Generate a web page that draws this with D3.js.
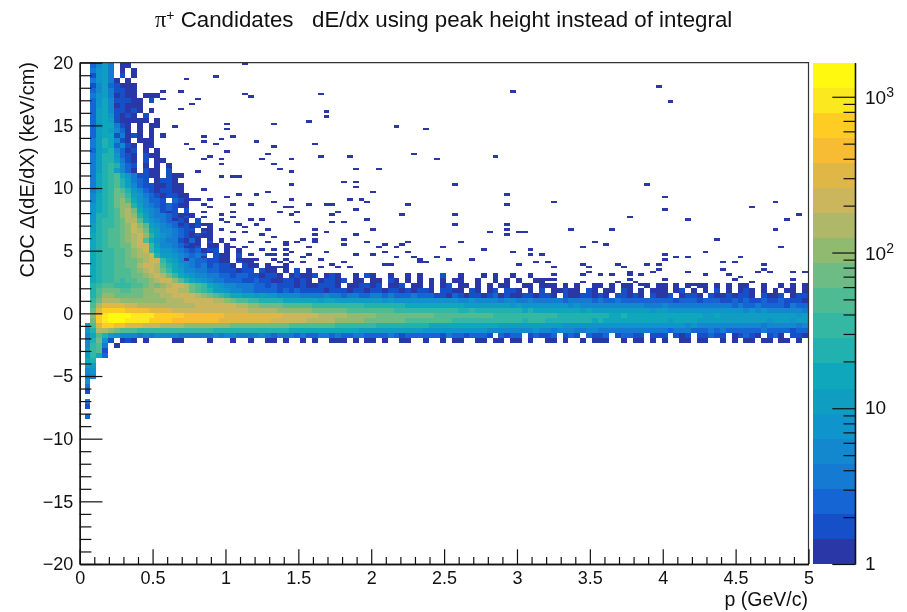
<!DOCTYPE html>
<html><head><meta charset="utf-8">
<style>html,body{margin:0;padding:0;background:#fff}svg{display:block;filter:blur(0.45px)}text{font-family:"Liberation Sans",Arial,sans-serif;fill:#111}</style>
<script src="https://cdn.jsdelivr.net/npm/d3@7"></script></head><body>
<svg id="c" width="907" height="612"></svg>
<script>
// ---- data ----
const titleText = "Candidates   dE/dx using peak height instead of integral";
const xLabel = "p (GeV/c)";
const yLabel = "CDC \u0394(dE/dX) (keV/cm)";
const xMajor = [0,0.5,1,1.5,2,2.5,3,3.5,4,4.5,5];
const yMajor = [-20,-15,-10,-5,0,5,10,15,20];
const zMajor = [1,10,100,1000];
const zMax = 1655;
const binP = 0.04, rowY = 0.4, fineY = 0.2;
const palette = ["#2a37a6","#1550c8","#1665d4","#157ad2","#1488ce","#0f94cb","#0f9ec2","#0fa7bb","#21b1af","#35b8a3","#4fbb93","#6dbb85","#8fba70","#aeb868","#cbb55d","#dfb747","#f7bc33","#ffcc24","#fbe81e","#fff80f"];
// one string per 0.4-high row from y=20 downward; one char per 0.04 GeV/c column;
// char = colour level of that bin ("." empty, 0-9 then a-j)
const denseRows = [
"..246 3.00","..356 3.0.0","..156 3.1.0","..356 30.0","..146 21000","..246 31100","..356 30100 .000","..257 41110 0.1","..257 40100 0",
"..267 41101 0.0","..267 51010 .1","..267 61000 00.0","..257 7310. 0.00","..267 6420. 0.0","..267 71301 0.0.0","..368 7410. 000","..368 72410 .00",
"..267 8420 1.0.0","..368 8521 0.100","..368 8631 0.1.0 0","..368 9842 1.0.0 .0","..368 9642 0.1 00.1","..378 9a753 1100.1 00","..378 9a863 21.011 0",
"..378 9a864 21100 100","..368 9ba85 4210 110 0","..478 9bb96 5321 0110 0","..478 9bca7 5422 1.2 10","..578 9bcc8 6432 121 0 0","..578 9acdb 7543 1 2 1 . 1",
"..588 9acdc 8643 321 0 1 0","..589 9abdd a7543 22 1 0 . 1","..689 9abce ca654 3211 0 1 . 0","..689 aabce db764 4 3 2 1 1 . 1 0","..789 aabcd ec865 4 3 2 1 0 1 0 0",
"..789 aabcd ea754 33102 0.1.0","..789 aabbd ee964 43210 1.00. 0","..789 9aabc de975 54321 2011. 0.0","..789 9aabc dde86 65432 32.10 0.1","..789 9aabb cdee9 76443 22110 0.10 0",
"..789 9aabb deeda 87543 23121 10.10 0.0.. 0",
"..789 9aaab cdedb 97644 33221 11011 .100. 0.1.0",
"..789 9aaab bcded b9765 44332 21221 10110 .0100 1.010 ..0.1 0..0. .0.0. ..1.. 0...0 .0..0 ..0..",
"..789 9a9aa bbcde eca87 65433 22211 21100 11010 .0110 1.00. 00.10 .0.0. 0.0.0 0..0. .0.0. 0..00",
"..89a a999a abcbc deedb a9765 44333 22121 11010 01110 .0011 01.00 1.00. 0.01. 00.0. 0.00. .00.0 00.0. 0..00 .0.00 ..0.0 0.0.0 .00.0 .0.00 ..0.. 0.0.0",
"..8ab bbaab bccdd eeddb a9866 54433 22221 21211 11011 10110 11011 01011 0.110 0.10. 01.11 0.0.1 .0010 0.10. 00.10 .0.00 0.01. 0.0.1 .0.01 0.0.0 .00.0",
"..8ac cbbbb bcccd deeee dcba9 87766 56554 44433 33433 23322 33232 22322 21102 10110 12010 01101 10.10 01101 0.110 10.10 01.01 10.10 01011 0.100 1.011",
"..9bd ddccc ccccc dddee eeedd cbaa9 98888 77777 76776 66666 66565 55555 55555 44544 44344 33433 33323 33323 22322 22222 22122 21222 11212 11211 21110",
"..adf fffee ddddd ddddd eeeee eeddc cbbbb aaaaa 99999 99998 88888 87777 77777 76666 66665 65555 55554 54444 44444 44333 43333 33333 33232 23222 21322",
"..bfh hhhgg ggfff feeee eeeee eeeed ddddc ccccc bbbbb baaaa aaaa9 99999 99999 88988 88888 87877 77777 76766 66666 66656 65555 55555 55554 54544 44443",
"..chi jjjji iiihh hhhgg ggggg fffff fffff eeeee edddd dcccc cbbbb bbbbb baaaa aaaaa a9999 99999 99888 88888 87787 77777 77777 77667 66666 66666 66656",
"..bhi jjjii iihhh hgggg ggggf fffff fffee eeeed ddddc ccccb bbbbb baaaa aaaa9 99999 99999 98999 88888 88878 77777 77777 76777 76666 66666 66656 66566",
".6afh hggff feeed dddcc ccccc cbbbb bbbbb baaaa aaaa9 99999 98888 88888 77777 77777 77666 66666 66655 55555 55555 55555 55554 54444 44444 44344 44434",
".58dd cbaaa 99999 99999 99988 88888 88888 87777 77777 77766 66666 66665 55555 55555 44444 44454 43444 33443 33333 33333 32333 22232 32222 22322 22122",
".47a8 65444 34344 44333 33343 44333 34323 33232 23323 22332 22232 12222 22132 21222 1.212 2.121 12.12 1.211 2.122 11.11 1.101 .1121 1.012 10.12 0.110",
".48b5 1.010 .0... .00.. ..0.. .0..0 ..00. 0..0. 0..00 0.0.0 0.0.. 00..0 ..0.0 0..00 .00.0 0.0.. 00.0. .0.00 0..0. 00.0. 0..00 .00.. 0.0.0 0.00. 00.0.",
".49a3 .0",".59a1",".5972",".78",".66",".45",".34",".5",".3",".1","",".3",".1","",".2"
];
// isolated single-count bins: [p, dE/dx]
const isolatedHits = [
[1.655,17.49],[1.694,16.08],[1.694,15.71],[1.575,15.33],[2.97,17.73],[1.329,15.07],[2.171,14.88],[2.372,14.7],[1.329,13.32],[1.612,13.5],[2.29,12.68],[1.45,12.3],[2.447,12.3],[1.655,12.49],[1.851,12.49],[2.851,12.49],[1.329,11.93],[1.374,11.53],[1.45,11.29],[1.895,11.53],[2.052,11.53],[1.812,10.52],[1.895,10.2],[1.895,10.6],[1.45,10.29],[2.575,10.29],[2.014,9.7],[2.93,9.51],[1.45,9.14],[1.329,8.9],[1.851,9.14],[1.93,9.14],[1.97,8.9],[1.575,8.69],[1.68,8.69],[1.72,8.69],[2.253,8.69],[2.93,8.69],[1.418,8.5],[1.45,8.5],[1.374,8.13],[1.493,8.13],[1.776,8.13],[1.895,8.32],[1.45,7.86],[1.73,7.86],[2.21,7.86],[2.575,7.86],[1.97,7.49],[1.493,7.31],[1.73,7.31],[1.812,7.31],[2.575,7.12],[2.93,7.12],
[3.97,18.13],[4.05,16.9],[3.892,10.29],[3.253,8.9],[4.01,9.33],[4.01,8.32],[3.774,7.68],[4.172,7.49],[4.61,8.5],[4.774,8.9],[4.85,7.49],[4.93,7.86],
[1.612,6.72],[1.694,6.48],[2.03,6.72],[2.813,6.48],[2.932,6.72],[3.03,6.48],[3.06,6.48],[2.932,6.38],[1.612,6.22],[1.612,5.98],[1.895,6.3],[1.326,6.06],[1.411,5.71],[1.411,5.45],[1.532,5.9],[1.493,5.71],[1.612,5.71],[1.812,5.9],[1.812,5.47],[1.97,5.71],[2.091,5.47],[2.052,5.23],[2.171,5.23],[2.21,5.58],[2.21,5.47],[2.251,5.71],[2.513,5.29],[2.612,5.71],[1.575,5.29],[2.773,5.15],[3.087,5.1],[3.087,4.73],[1.326,5.18],[1.411,5.18],[1.335,4.78],[1.411,4.78],[1.445,4.89],[1.575,4.7],[1.536,4.41],[1.694,4.89],[1.895,4.7],[2.014,4.7],[2.091,4.89],[2.171,4.52],[2.269,4.89],[2.29,4.52],[2.331,4.3],[2.331,4.06],[2.377,4.06],[2.447,4.52],[2.536,4.33],[2.691,4.33],[2.97,4.89],[3.014,3.93],[3.13,4.06],[1.326,4.33],[1.372,4.06],[1.411,4.33],[1.445,4.06],[1.555,4.06],[1.655,4.33],[1.737,3.93],[1.812,4.06],[2.091,3.93],[2.126,3.93],[1.851,3.72],[1.655,3.72],[1.778,3.72],[1.326,3.72],[1.372,3.72],
[3.372,6.72],[3.655,6.72],[4.774,6.72],[4.372,5.9],[3.454,5.29],[3.534,5.71],[3.61,5.47],[4.811,5.29],[3.171,4.7],[4.011,4.7],[4.011,4.33],[4.089,4.52],[4.171,4.52],[4.29,4.89],[4.534,4.52],[3.21,4.06],[3.256,3.72],[3.454,3.93],[3.491,3.72],[3.691,3.93],[3.731,3.72],[3.89,3.93],[3.97,3.93],[4.415,4.06],[4.491,4.06],[4.691,3.93],[3.97,3.51],[4.415,3.51],[4.691,3.51],[4.653,3.32],[4.728,3.32],[4.893,3.32],[4.97,3.32],[4.171,3.32],[4.29,3.06],[3.491,3.24],[3.454,3.06],[3.573,3.06],[3.655,3.06],[3.774,3.24],[3.774,3.06],[3.849,3.06],[3.929,3.32],[3.256,3.06],[4.454,3.06],[4.893,2.66],[4.011,2.66],[4.491,2.66],[4.534,2.87],[3.774,2.66],[3.81,2.52],[3.21,2.66],[3.256,2.66],[3.454,2.5],[3.691,2.5],[3.849,2.31],[4.208,2.31],[4.614,2.5],[4.811,2.31],[4.97,2.31],
[1.137,19.88],[0.733,18.68],[0.933,18.87],[0.577,17.73],[0.694,17.73],[1.137,17.49],[1.173,17.3],[0.813,17.12],[0.778,16.72],[0.577,17.12],[0.694,16.29],[1.013,15.1],[1.013,14.7],[0.657,14.91],[0.854,14.09],[0.854,13.69],[1.052,14.09],[0.972,13.9],[0.933,13.5],[1.212,13.69],[1.013,12.94],[1.292,12.68],[1.253,12.3],[0.895,12.49],[0.854,12.22],[0.972,12.3],[0.972,11.93],[0.771,13.08],[0.733,13.48],[0.813,11.24],[0.972,10.89],[1.052,10.89],[1.093,10.81],[1.292,9.7],[1.212,9.49],[1.093,9.51],[0.895,9.2],[0.854,9.89],[1.013,9.3],[0.771,9.17],[0.733,9.17],[0.813,9.03],[1.173,8.69],
[0.733,8.56],[0.847,8.64],[1.052,8.72],[1.178,8.72],[0.892,8.56],[0.618,8.1],[0.721,7.84],[0.847,8.02],[0.972,7.84],[1.052,8.1],[0.653,7.57],[0.767,7.7],[0.847,7.7],[0.972,7.44],[1.052,7.7],[1.109,7.12],[1.178,7.44],[1.258,7.44],[0.71,7.04],[0.847,7.17],[1.007,7.31],[1.132,6.91],[1.212,7.04],[1.281,6.78],[0.79,6.51],[0.87,6.78],[0.961,6.78],[1.052,6.51],[1.144,6.51],[1.246,6.24],[0.892,5.98],[0.984,5.85],[1.075,5.9],[1.178,5.71],[1.281,5.71],[0.813,6.11],[0.733,5.32],[0.835,5.45],[0.938,5.32],[1.052,5.32],[1.155,5.32],[1.258,5.18],[0.915,4.91],[1.029,4.78],[1.166,4.78],[1.281,4.65],[0.87,4.52],[0.984,4.38],[1.098,4.25],[1.212,4.38],[0.733,4.38]
];
// ---- scales ----
const W=907,H=612,L=79.7,R=808.5,T=62.7,B=564,BL=813.3,BR=855;
const x=d3.scaleLinear().domain([0,5]).range([L,R]);
const y=d3.scaleLinear().domain([-20,20]).range([B,T]);
const zAxisScale=d3.scaleLog().domain([1,zMax]).range([B,T]);
const colour=d3.scaleQuantize().domain([0,Math.log10(zMax)]).range(palette);
const levelChars="0123456789abcdefghij";
const levelCount=l=>Math.pow(10,(l+0.5)*Math.log10(zMax)/palette.length);
const cells=[];
denseRows.forEach((row,r)=>{
  row.replace(/ /g,"").split("").forEach((c,i)=>{
    const l=levelChars.indexOf(c);
    if(l>=0) cells.push({p0:i*binP,p1:(i+1)*binP,y1:20-r*rowY,y0:20-(r+1)*rowY,n:levelCount(l)});
  });
});
isolatedHits.forEach(([p,v])=>{
  const i=Math.floor(p/binP), k=Math.floor(v/fineY);
  cells.push({p0:i*binP,p1:(i+1)*binP,y0:k*fineY,y1:(k+1)*fineY,n:1});
});
const svg=d3.select("#c");
svg.append("rect").attr("width",W).attr("height",H).attr("fill","#fff");
svg.append("g").attr("shape-rendering","crispEdges").selectAll("rect").data(cells).join("rect")
  .attr("x",d=>x(d.p0)-1).attr("width",d=>x(d.p1)-x(d.p0))
  .attr("y",d=>y(d.y1)).attr("height",d=>y(d.y0)-y(d.y1))
  .attr("fill",d=>colour(Math.log10(d.n)));
// colour bar
const edges=d3.range(palette.length+1).map(i=>Math.pow(10,i*Math.log10(zMax)/palette.length));
svg.append("g").attr("shape-rendering","crispEdges").selectAll("rect").data(palette).join("rect")
  .attr("x",BL).attr("width",BR-BL)
  .attr("y",(d,i)=>zAxisScale(edges[i+1])).attr("height",(d,i)=>zAxisScale(edges[i])-zAxisScale(edges[i+1]))
  .attr("fill",d=>d);
// frame
svg.append("path").attr("d",`M${L},${T}H${R}V${B}`).attr("fill","none").attr("stroke","#333").attr("stroke-width",1.2);
function style(g){g.selectAll(".domain").attr("stroke","#111").attr("stroke-width",1.3);g.selectAll("line").attr("stroke","#111").attr("stroke-width",1.2);g.selectAll("text").attr("font-size",18).attr("fill","#111");}
const minus=s=>String(s).replace("-","\u2212");
// x axis
const xMinor=d3.range(0,5.001,0.1).filter(v=>Math.abs(v*2-Math.round(v*2))>1e-6);
const gx2=svg.append("g").attr("transform",`translate(0,${B})`).call(d3.axisBottom(x).tickValues(xMinor).tickSize(-7).tickSizeOuter(0).tickFormat(""));
style(gx2);
const gx=svg.append("g").attr("transform",`translate(0,${B})`).call(d3.axisBottom(x).tickValues(xMajor).tickSize(-14.7).tickSizeOuter(0).tickFormat(d=>d));
style(gx);
gx.selectAll("text").attr("y",3).attr("dy","0.95em");
// y axis
const yMinor=d3.range(-20,20.01,1).filter(v=>v%5!==0);
const gy2=svg.append("g").attr("transform",`translate(${L},0)`).call(d3.axisLeft(y).tickValues(yMinor).tickSize(-11.7).tickSizeOuter(0).tickFormat(""));
style(gy2);
const gy=svg.append("g").attr("transform",`translate(${L},0)`).call(d3.axisLeft(y).tickValues(yMajor).tickSize(-22.7).tickSizeOuter(0).tickFormat(minus));
style(gy);
gy.selectAll("text").attr("x",-6.5).attr("text-anchor","end");
// colour axis
const zMinor=[2,3,4,5,6,7,8,9,20,30,40,50,60,70,80,90,200,300,400,500,600,700,800,900];
const gz2=svg.append("g").attr("transform",`translate(${BR},0)`).call(d3.axisRight(zAxisScale).tickValues(zMinor).tickSize(-11.5).tickSizeOuter(0).tickFormat(""));
style(gz2);
const gz=svg.append("g").attr("transform",`translate(${BR},0)`).call(d3.axisRight(zAxisScale).tickValues(zMajor).tickSize(-22.7).tickSizeOuter(0).tickFormat(""));
style(gz);
const zt=svg.append("g").selectAll("text").data(zMajor).join("text")
  .attr("x",865).attr("y",d=>zAxisScale(d)+(d<100?5.5:7.5)).attr("font-size",19);
zt.each(function(d){
  const t=d3.select(this);
  if(d<100){t.text(d);return;}
  t.append("tspan").text("10");
  t.append("tspan").attr("dy",-7).attr("font-size",14).text(Math.round(Math.log10(d)));
});
// titles
const tt=svg.append("text").attr("x",155).attr("y",27).attr("font-size",22.3);
tt.append("tspan").attr("style","font-family:'Liberation Serif'").text("\u03C0");
tt.append("tspan").attr("dy",-7).attr("font-size",14).text("+");
tt.append("tspan").attr("dy",7).attr("style","white-space:pre").text(" "+titleText);
svg.append("text").attr("x",808).attr("y",606).attr("text-anchor","end").attr("font-size",19.5).text(xLabel);
svg.append("text").attr("transform","translate(34,62) rotate(-90)").attr("text-anchor","end").attr("font-size",20).text(yLabel);
</script></body></html>
